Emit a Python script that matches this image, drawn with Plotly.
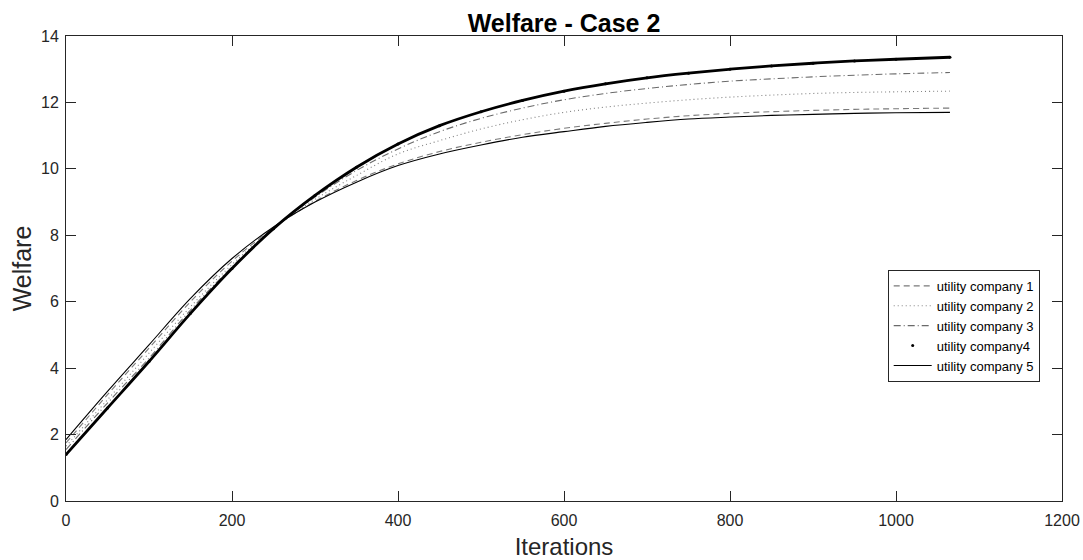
import plotly.graph_objects as go

iterations = [0, 50, 100, 150, 200, 250, 300, 350, 400, 450, 500, 550, 600, 650,
              700, 750, 800, 850, 900, 950, 1000, 1065]

company1 = [1.75, 3.20, 4.60, 6.00, 7.22, 8.22, 9.02, 9.65, 10.15, 10.52, 10.80, 11.03,
            11.22, 11.37, 11.50, 11.60, 11.67, 11.72, 11.76, 11.79, 11.81, 11.83]
company2 = [1.65, 3.05, 4.45, 5.85, 7.12, 8.20, 9.08, 9.80, 10.45, 10.85, 11.20, 11.48,
            11.70, 11.86, 11.98, 12.08, 12.16, 12.22, 12.27, 12.30, 12.32, 12.34]
company3 = [1.55, 2.95, 4.30, 5.75, 7.05, 8.20, 9.15, 9.95, 10.60, 11.12, 11.52, 11.83,
            12.08, 12.27, 12.42, 12.54, 12.64, 12.71, 12.77, 12.82, 12.86, 12.90]
company4 = [1.40, 2.80, 4.20, 5.65, 7.00, 8.20, 9.20, 10.05, 10.75, 11.30, 11.72, 12.06,
            12.34, 12.56, 12.74, 12.88, 13.00, 13.10, 13.18, 13.25, 13.30, 13.36]
company5 = [1.85, 3.30, 4.70, 6.10, 7.30, 8.25, 9.00, 9.60, 10.10, 10.45, 10.72, 10.95,
            11.12, 11.28, 11.40, 11.50, 11.56, 11.61, 11.64, 11.67, 11.69, 11.70]

x_ticks = [0, 200, 400, 600, 800, 1000, 1200]
y_ticks = [0, 2, 4, 6, 8, 10, 12, 14]

FONT = "Liberation Sans, Arial, sans-serif"

fig = go.Figure()
fig.add_trace(go.Scatter(x=iterations, y=company1, mode="lines", name="utility company 1",
                         line=dict(color="#7a7a7a", width=1.1, dash="6px,4px", shape="spline")))
fig.add_trace(go.Scatter(x=iterations, y=company2, mode="lines", name="utility company 2",
                         line=dict(color="#808080", width=1.1, dash="1px,3px", shape="spline")))
fig.add_trace(go.Scatter(x=iterations, y=company3, mode="lines", name="utility company 3",
                         line=dict(color="#6a6a6a", width=1.1, dash="7px,3px,1px,3px", shape="spline")))
fig.add_trace(go.Scatter(x=iterations, y=company4, mode="lines", showlegend=False,
                         legendgroup="c4", hoverinfo="skip",
                         line=dict(color="#000000", width=2.8, shape="spline")))
fig.add_trace(go.Scatter(x=iterations, y=company4, mode="markers", name="utility company4",
                         legendgroup="c4",
                         marker=dict(color="#000000", size=3)))
fig.add_trace(go.Scatter(x=iterations, y=company5, mode="lines", name="utility company 5",
                         line=dict(color="#000000", width=1.1, shape="spline")))

axis_common = dict(showgrid=False, zeroline=False, showline=True, linecolor="#262626",
                   linewidth=1, mirror="allticks", ticks="inside", ticklen=10,
                   tickcolor="#262626", tickwidth=1,
                   tickfont=dict(family=FONT, size=16, color="#262626"))

W, H = 1083, 560
L, T, R, B = 66, 36, 21, 59

fig.update_layout(
    width=W, height=H,
    margin=dict(l=L, r=R, t=T, b=B, autoexpand=False),
    paper_bgcolor="white", plot_bgcolor="white",
    title=dict(text="<b>Welfare - Case 2</b>", x=(L + (W - R)) / 2 / W, xanchor="center",
               y=1 - 23 / H, yanchor="middle", yref="container",
               font=dict(family=FONT, size=25, color="#000000")),
    xaxis=dict(range=[0, 1200], tickvals=x_ticks, ticktext=[str(v) for v in x_ticks],
               ticklabelstandoff=5,
               title=dict(text="Iterations", standoff=10,
                          font=dict(family=FONT, size=24, color="#262626")),
               **axis_common),
    yaxis=dict(range=[0, 14], tickvals=y_ticks, ticktext=[str(v) for v in y_ticks],
               ticklabelstandoff=3,
               title=dict(text="Welfare", standoff=2,
                          font=dict(family=FONT, size=25, color="#262626")),
               **axis_common),
    legend=dict(x=0.825, y=0.497, xanchor="left", yanchor="top",
                bgcolor="white", bordercolor="#262626", borderwidth=1,
                font=dict(family=FONT, size=13, color="#000000"),
                tracegroupgap=0, itemwidth=38),
    showlegend=True,
)

fig.write_html("out.html",
               config={"displayModeBar": False},
               post_script="document.body.style.margin='0';document.body.style.overflow='hidden';")
